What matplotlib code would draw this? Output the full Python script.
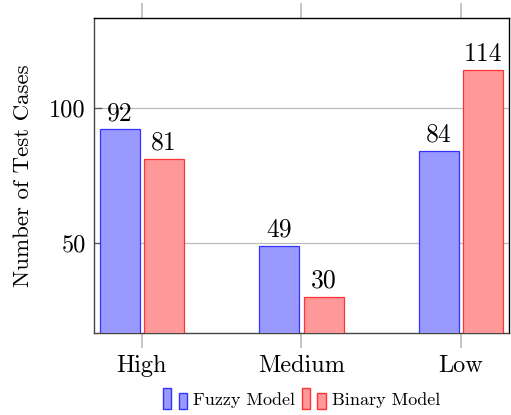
import numpy as np
import matplotlib
matplotlib.use("Agg")
from matplotlib import pyplot as plt
from matplotlib.patches import Rectangle
from matplotlib.legend_handler import HandlerBase

plt.rcParams['font.family'] = 'cmr10'
plt.rcParams['mathtext.fontset'] = 'cm'
plt.rcParams['axes.unicode_minus'] = False
plt.rcParams['axes.formatter.use_mathtext'] = True

categories = ["High", "Medium", "Low"]
fuzzy = [92, 49, 84]
binary = [81, 30, 114]
series_names = ["Fuzzy Model", "Binary Model"]

FUZZY_FILL = "#9999ff"
FUZZY_EDGE = "#3333ff"
BIN_FILL = "#ff9999"
BIN_EDGE = "#ff3333"


class TwoBars(HandlerBase):
    # pgfplots style ybar legend: two small bars
    def create_artists(self, legend, orig, xd, yd, w, h, fs, trans):
        p = orig.patches[0]
        fc = p.get_facecolor()
        ec = p.get_edgecolor()
        bw = w * 0.34
        y0 = yd - h * 0.3
        r1 = Rectangle((xd, y0), bw, h * 1.65, fc=fc, ec=ec, lw=1, transform=trans)
        r2 = Rectangle((xd + w - bw, y0), bw, h * 1.25, fc=fc, ec=ec, lw=1, transform=trans)
        return [r1, r2]


fig = plt.figure(figsize=(5.11, 4.15), dpi=100)
ax = fig.add_axes([0.184, 0.198, 0.812, 0.759])

x = np.arange(len(categories))
bw = 0.25
off = 0.14
b1 = ax.bar(x - off, fuzzy, bw, color=FUZZY_FILL, edgecolor=FUZZY_EDGE, lw=0.9, zorder=3, label=series_names[0])
b2 = ax.bar(x + off, binary, bw, color=BIN_FILL, edgecolor=BIN_EDGE, lw=0.9, zorder=3, label=series_names[1])

for bars, vals in [(b1, fuzzy), (b2, binary)]:
    for r, v in zip(bars, vals):
        ax.annotate(str(v), (r.get_x() + r.get_width() / 2, v), xytext=(0, 3),
                    textcoords="offset points", ha="center", va="bottom", fontsize=18.5)

ax.set_xlim(-0.3, 2.3)
ax.set_ylim(16.7, 133.3)
ax.set_xticks(x)
ax.set_xticklabels(categories, fontsize=17.5)
ax.set_yticks([50, 100])
ax.set_yticklabels(["50", "100"], fontsize=17.5)
ax.set_ylabel("Number of Test Cases", fontsize=16.5)
ax.yaxis.set_label_coords(-0.148, 0.5)

ax.grid(axis="y", color="#bbbbbb", lw=0.9, zorder=0)
ax.tick_params(axis="x", direction="out", length=11, color="#bbbbbb", width=1.2,
               top=True, bottom=True, pad=5)
ax.tick_params(axis="y", direction="in", length=6, color="#555555", width=0.9, pad=6)
for s in ax.spines.values():
    s.set_linewidth(1.0)
ax.spines["bottom"].set_color("#444444")
ax.spines["left"].set_color("#444444")

ax.legend(handler_map={b1: TwoBars(), b2: TwoBars()}, handles=[b1, b2],
          loc="center", bbox_to_anchor=(0.5, -0.213), ncol=2, frameon=False,
          fontsize=13, handlelength=1.33, handletextpad=0.35, columnspacing=0.35,
          borderpad=0.1)

plt.savefig("out.png", dpi=100)
